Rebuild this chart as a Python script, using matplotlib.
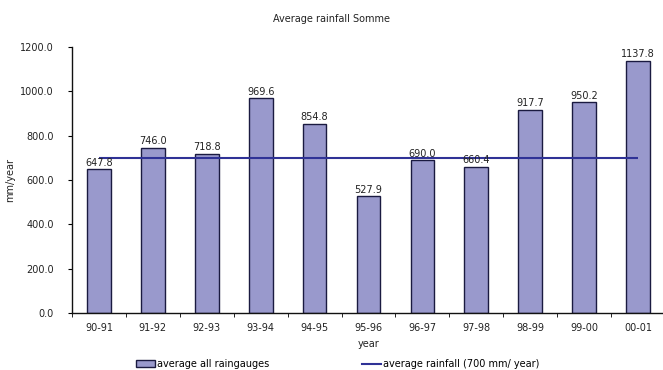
import matplotlib
matplotlib.use("Agg")
import matplotlib.pyplot as plt
from matplotlib.patches import Patch
from matplotlib.lines import Line2D

# Hydrological years and mean rainfall over all raingauges (mm/year)
years = ["90-91", "91-92", "92-93", "93-94", "94-95", "95-96",
         "96-97", "97-98", "98-99", "99-00", "00-01"]
rainfall = [647.8, 746.0, 718.8, 969.6, 854.8, 527.9,
            690.0, 660.4, 917.7, 950.2, 1137.8]
long_term_avg = 700

BAR_FILL = "#9999cc"
BAR_EDGE = "#1a1a40"
LINE_COLOR = "#2f3296"
TEXT = "#222222"

plt.rcParams["font.family"] = ["DejaVu Sans"]
plt.rcParams["font.size"] = 7

W, H = 663, 370
fig = plt.figure(figsize=(W / 100, H / 100), dpi=100)
fig.patch.set_facecolor("white")
ax = fig.add_axes([72 / W, 57 / H, 593 / W, 266 / H])

x = list(range(len(years)))
ax.bar(x, rainfall, width=0.44, color=BAR_FILL, edgecolor=BAR_EDGE,
       linewidth=1.0, zorder=2)
ax.hlines(long_term_avg, x[0], x[-1], color=LINE_COLOR, linewidth=1.5, zorder=3)

for xi, v in zip(x, rainfall):
    ax.annotate(f"{v:.1f}", (xi, v), xytext=(0, 1), textcoords="offset points",
                ha="center", va="bottom", fontsize=7, color=TEXT)

ax.set_xlim(-0.5, len(years) - 0.5)
ax.set_ylim(0, 1200)
yt = list(range(0, 1201, 200))
ax.set_yticks(yt)
ax.set_yticklabels([f"{t:.1f}" for t in yt], color=TEXT)

ax.set_xticks(x)
ax.set_xticklabels(years, color=TEXT)
ax.set_xticks([i + 0.5 for i in x[:-1]] + [-0.5], minor=True)
ax.tick_params(axis="x", which="major", length=0, pad=7)
ax.tick_params(axis="x", which="minor", length=3, direction="out")
ax.tick_params(axis="y", length=3, direction="out", pad=10)

for side in ("top", "right"):
    ax.spines[side].set_visible(False)
for side in ("left", "bottom"):
    ax.spines[side].set_linewidth(1.0)
    ax.spines[side].set_color("#111111")

ax.set_xlabel("year", color=TEXT)
ax.xaxis.set_label_coords(0.5, -26 / 266)
ax.set_ylabel("mm/year", color=TEXT)
ax.yaxis.set_label_coords(-57 / 593, 0.5)
fig.text(0.5, 1 - 19 / H, "Average rainfall Somme", ha="center",
         va="center", fontsize=7, color=TEXT)

# two legend entries placed independently along the bottom
entries = [
    (Patch(facecolor=BAR_FILL, edgecolor=BAR_EDGE, linewidth=1.0),
     "average all raingauges", 136),
    (Line2D([0], [0], color=LINE_COLOR, linewidth=1.5),
     "average rainfall (700 mm/ year)", 362),
]
for handle, label, left in entries:
    fig.legend([handle], [label], loc="center left",
               bbox_to_anchor=(left / W, 1 - 364 / H), frameon=False,
               fontsize=7, borderpad=0, borderaxespad=0, handlelength=2.0,
               handletextpad=0.2, handleheight=0.7)

fig.savefig("out.png", dpi=100, facecolor="white")
